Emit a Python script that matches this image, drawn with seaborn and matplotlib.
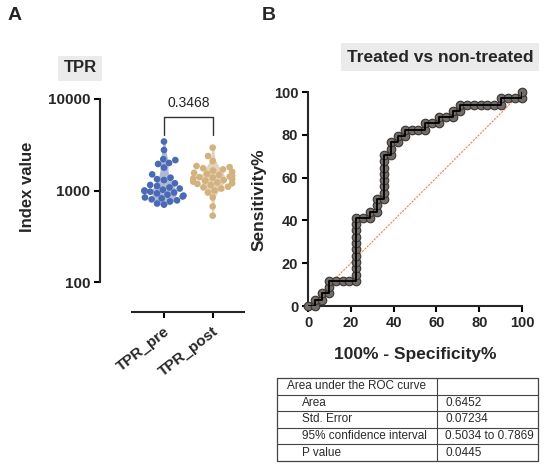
import matplotlib
matplotlib.use("Agg")
import matplotlib.pyplot as plt
from matplotlib.ticker import NullLocator, FixedLocator
import numpy as np
import pandas as pd
import seaborn as sns

# ---------------- data ----------------
groups = ["TPR_pre", "TPR_post"]
tpr_pre = [3430, 2770, 2200, 2150, 2000, 1950, 1780, 1500, 1380, 1330, 1300,
           1200, 1150, 1120, 1080, 1050, 1020, 1000, 990, 970, 950, 930, 900,
           880, 860, 840, 820, 800, 780, 760, 720, 700]
tpr_post = [2940, 2380, 2100, 1850, 1800, 1750, 1700, 1650, 1600, 1560, 1520,
            1480, 1450, 1420, 1400, 1380, 1350, 1330, 1300, 1280, 1250, 1220,
            1200, 1180, 1150, 1100, 1080, 1050, 1000, 950, 840, 670, 530]
p_label = "0.3468"

fpr_pct = [0, 3.23, 3.23, 6.45, 6.45, 9.68, 9.68, 9.68, 12.90, 16.13, 19.35,
           22.58, 22.58, 22.58, 22.58, 22.58, 22.58, 22.58, 22.58, 22.58, 22.58,
           22.58, 25.81, 29.03, 29.03, 32.26, 32.26, 32.26, 35.48, 35.48, 35.48,
           35.48, 35.48, 35.48, 35.48, 35.48, 38.71, 38.71, 38.71, 41.94, 41.94,
           45.16, 45.16, 48.39, 51.61, 54.84, 54.84, 58.06, 61.29, 61.29, 64.52,
           67.74, 67.74, 70.97, 70.97, 74.19, 77.42, 80.65, 83.87, 87.10, 90.32,
           90.32, 93.55, 96.77, 100.0, 100.0]
tpr_pct = [0, 0, 2.94, 2.94, 5.88, 5.88, 8.82, 11.76, 11.76, 11.76, 11.76,
           11.76, 14.71, 17.65, 20.59, 23.53, 26.47, 29.41, 32.35, 35.29, 38.24,
           41.18, 41.18, 41.18, 44.12, 44.12, 47.06, 50.00, 50.00, 52.94, 55.88,
           58.82, 61.76, 64.71, 67.65, 70.59, 70.59, 73.53, 76.47, 76.47, 79.41,
           79.41, 82.35, 82.35, 82.35, 82.35, 85.29, 85.29, 85.29, 88.24, 88.24,
           88.24, 91.18, 91.18, 94.12, 94.12, 94.12, 94.12, 94.12, 94.12, 94.12,
           97.06, 97.06, 97.06, 97.06, 100.0]

table_labels = ["Area under the ROC curve", "Area", "Std. Error",
                "95% confidence interval", "P value"]
table_values = ["", "0.6452", "0.07234", "0.5034 to 0.7869", "0.0445"]

# ---------------- style ----------------
sns.set_theme(style="ticks")
plt.rcParams["font.family"] = ["Liberation Sans", "DejaVu Sans"]
plt.rcParams["axes.linewidth"] = 1.5

W, H = 550, 468
fig = plt.figure(figsize=(5.5, 4.68), dpi=100)


def fx(px):
    return px / W


def fy(py):
    return 1 - py / H


dark_pal = {"TPR_pre": "#4a6bb3", "TPR_post": "#d3b27f"}
light_pal = {"TPR_pre": "#a9b4dc", "TPR_post": "#ead6b2"}

# ---------------- panel A ----------------
axA = fig.add_axes([fx(131.7), fy(282), fx(244) - fx(131.7), fy(99) - fy(282)])
df = pd.DataFrame({
    "group": [groups[0]] * len(tpr_pre) + [groups[1]] * len(tpr_post),
    "value": tpr_pre + tpr_post,
})
sns.violinplot(data=df, x="group", y="value", hue="group", palette=light_pal,
               cut=0, inner=None, linewidth=0, width=0.5, bw_adjust=0.8,
               log_scale=True, legend=False, ax=axA)
sns.swarmplot(data=df, x="group", y="value", hue="group", palette=dark_pal,
              size=4.8, legend=False, ax=axA)
for s in ["top", "right"]:
    axA.spines[s].set_visible(False)
axA.spines["left"].set_position(("outward", 22.8))
axA.spines["bottom"].set_position(("outward", 21.6))
axA.spines["left"].set_linewidth(1.5)
axA.spines["bottom"].set_linewidth(1.5)
axA.set_xlim(-0.663, 1.643)
axA.set_ylim(100, 10000)
axA.yaxis.set_major_locator(FixedLocator([100, 1000, 10000]))
axA.yaxis.set_minor_locator(NullLocator())
axA.set_yticklabels(["100", "1000", "10000"], fontsize=11, fontweight="bold")
axA.set_xticks([0, 1])
axA.set_xticklabels(groups, fontsize=11, fontweight="bold", rotation=38,
                    ha="right", rotation_mode="anchor")
axA.tick_params(axis="both", length=4, width=1.5, color="black", pad=3)
axA.tick_params(axis="x", pad=5)
axA.set_xlabel("")
axA.set_ylabel("")
axA.set_facecolor("none")
# significance bracket
axA.plot([0, 0, 1, 1], [4020, 6340, 6340, 4020], color="#333333", lw=1.0,
         clip_on=False)
axA.text(0.5, 9100, p_label, ha="center", va="center", fontsize=10,
         color="#222222")

fig.text(fx(28), fy(187), "Index value", rotation=90, ha="center",
         va="center", fontsize=12, fontweight="bold")
fig.text(fx(80), fy(68), "TPR", ha="center", va="center", fontsize=12,
         fontweight="bold",
         bbox=dict(facecolor="#ebebeb", edgecolor="none",
                   boxstyle="square,pad=0.3"))
fig.text(fx(15), fy(16), "A", ha="center", va="center", fontsize=14,
         fontweight="bold")

# ---------------- panel B ----------------
axB = fig.add_axes([fx(308), fy(306), fx(522) - fx(308), fy(92) - fy(306)])
axB.plot([0, 100], [0, 100], color="#f2845c", lw=0.8, ls=(0, (2, 1)),
         zorder=1)
sns.scatterplot(x=fpr_pct, y=tpr_pct, s=38, color="#736d69",
                edgecolor="#3a3634", linewidth=0.8, clip_on=False, zorder=3,
                ax=axB)
sns.lineplot(x=fpr_pct, y=tpr_pct, sort=False, estimator=None,
             color="black", lw=1.3, zorder=4, ax=axB)
for s in ["top", "right"]:
    axB.spines[s].set_visible(False)
axB.spines["left"].set_linewidth(1.5)
axB.spines["bottom"].set_linewidth(1.5)
axB.set_xlim(0, 100)
axB.set_ylim(0, 100)
axB.set_xticks([0, 20, 40, 60, 80, 100])
axB.set_yticks([0, 20, 40, 60, 80, 100])
axB.set_xticklabels(["0", "20", "40", "60", "80", "100"], fontsize=10.5,
                    fontweight="bold")
axB.set_yticklabels(["0", "20", "40", "60", "80", "100"], fontsize=10.5,
                    fontweight="bold")
axB.tick_params(axis="both", length=4, width=1.5, color="black", pad=3)
axB.set_xlabel("")
axB.set_ylabel("")
axB.set_facecolor("none")

fig.text(fx(415), fy(354), "100% - Specificity%", ha="center", va="center",
         fontsize=12.5, fontweight="bold")
fig.text(fx(259), fy(200), "Sensitivity%", rotation=90, ha="center",
         va="center", fontsize=12.5, fontweight="bold")
fig.text(fx(440), fy(57), "Treated vs non-treated", ha="center", va="center",
         fontsize=12.5, fontweight="bold",
         bbox=dict(facecolor="#ebebeb", edgecolor="none",
                   boxstyle="square,pad=0.35"))
fig.text(fx(269), fy(16), "B", ha="center", va="center", fontsize=14,
         fontweight="bold")

# ---------------- table ----------------
tw, th = 538 - 277, 461 - 378
axT = fig.add_axes([fx(277), fy(461), fx(538) - fx(277), fy(378) - fy(461)])
axT.set_xlim(0, tw)
axT.set_ylim(th, 0)
axT.axis("off")
nrows = len(table_labels)
rh = th / nrows
lc = "#444444"
axT.plot([0, tw, tw, 0, 0], [0, 0, th, th, 0], color=lc, lw=0.9,
         clip_on=False)
for i in range(1, nrows):
    axT.plot([0, tw], [i * rh, i * rh], color=lc, lw=0.8)
axT.plot([160, 160], [0, th], color=lc, lw=0.8)
for i, (lab, val) in enumerate(zip(table_labels, table_values)):
    x0 = 10 if i == 0 else 25
    axT.text(x0, (i + 0.5) * rh, lab, ha="left", va="center", fontsize=8.5,
             color="#2a2a2a")
    if val:
        axT.text(168, (i + 0.5) * rh, val, ha="left", va="center",
                 fontsize=8.5, color="#2a2a2a")

fig.savefig("out.png", dpi=100, facecolor="white")
